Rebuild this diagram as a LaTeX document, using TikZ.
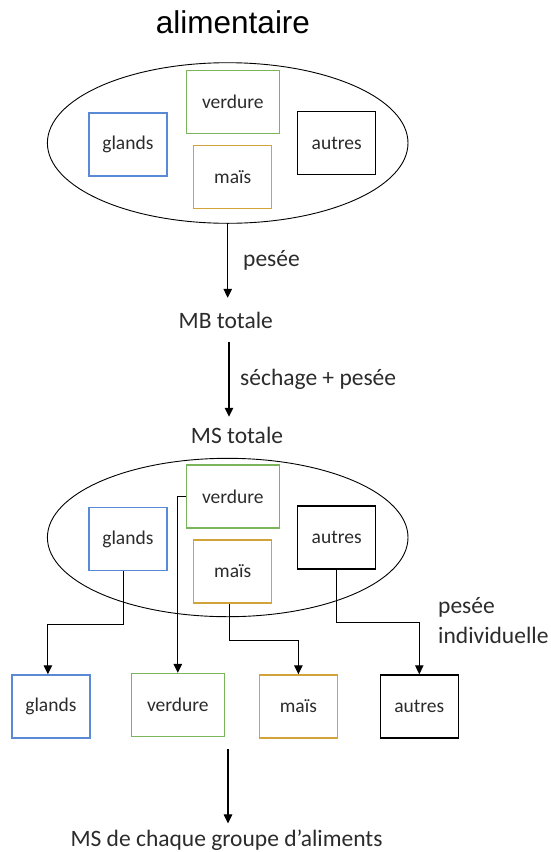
\documentclass[tikz,border=0pt]{standalone}
\usepackage{fontspec}
\setmainfont{Carlito}
\newfontfamily\titlefont{Liberation Sans}
\usetikzlibrary{shapes.geometric,arrows.meta}
\definecolor{cblue}{HTML}{5A8AD6}
\definecolor{cgreen}{HTML}{7AB55C}
\definecolor{cgold}{HTML}{D2A33A}
\definecolor{txt}{HTML}{2B2B2B}
\begin{document}
\begin{tikzpicture}[x=1pt,y=-1pt,
  box/.style={draw,line width=1.3pt,minimum width=78pt,minimum height=63pt,inner sep=0pt,font=\fontsize{19.5}{22}\selectfont,text=txt},
  wbox/.style={box,minimum width=93pt},
  ell/.style={draw,ellipse,line width=0.9pt,inner sep=0pt,minimum width=360.6pt,minimum height=160.6pt},
  lbl/.style={font=\fontsize{23.5}{28}\selectfont,text=txt,inner sep=0pt},
  arr/.style={line width=1.1pt,-{Triangle[length=9pt,width=8.5pt]}}]
\useasboundingbox (0,0) rectangle (550,852);

\node[font=\titlefont\fontsize{31.5}{36}\selectfont,anchor=base,inner sep=0pt] (title) at (233,33.3) {alimentaire};

% top ellipse
\node[ell] (e1) at (227.7,143) {};
\node[box,draw=cblue] (g1) at (127.9,144.4) {glands};
\node[wbox,draw=cgreen] (v1) at (232.8,101.7) {verdure};
\node[box,draw=cgold] (m1) at (232.7,176.8) {maïs};
\node[box,draw=black] (a1) at (336.7,143) {autres};

% labels
\node[lbl,anchor=base west] (p1) at (243,266) {pesée};
\node[lbl,anchor=base] (mb) at (225.8,328.3) {MB totale};
\node[lbl,anchor=base west] (sp) at (240,385.7) {séchage + pesée};
\node[lbl,anchor=base] (ms) at (237,443.3) {MS totale};

% second ellipse
\node[ell,minimum height=158.4pt] (e2) at (227.7,537.5) {};
\node[box,draw=cblue] (g2) at (127.9,538.9) {glands};
\node[wbox,draw=cgreen] (v2) at (232.8,496.4) {verdure};
\node[box,draw=cgold] (m2) at (232.7,571.4) {maïs};
\node[box,draw=black] (a2) at (336.7,537.4) {autres};

\node[lbl,anchor=base west] (pi1) at (438,613.3) {pesée};
\node[lbl,anchor=base west] (pi2) at (438,643.3) {individuelle};

% bottom boxes
\node[box,draw=cblue] (g3) at (50.9,706.4) {glands};
\node[wbox,draw=cgreen] (v3) at (177.8,705) {verdure};
\node[box,draw=cgold] (m3) at (298.4,706.4) {maïs};
\node[box,draw=black] (a3) at (419.3,706.4) {autres};

\node[lbl,anchor=base] (fin) at (226.5,846.7) {MS de chaque groupe d’aliments};

% arrows
\draw[arr,shorten >=14pt] (e1.south) -- (e1.south |- mb.north);
\draw[arr,shorten <=13pt,shorten >=10pt] ([xshift=3.2pt]mb.south) -- ([xshift=3.2pt]mb.south |- ms.north);

\draw[arr] ([xshift=-4pt]g2.south) -- ++(0,53) -| ([xshift=-3pt]g3.north);
\draw[arr] (v2.west) -| (v3.north);
\draw[arr] ([xshift=-3.6pt]m2.south) -- ++(0,36.5) -| (m3.north);
\draw[arr] (a2.south) -- ++(0,53) -| (a3.north);

\coordinate (r3) at (228,749);
\draw[arr,shorten >=6.5pt] (r3) -- (r3 |- fin.north);
\end{tikzpicture}
\end{document}
